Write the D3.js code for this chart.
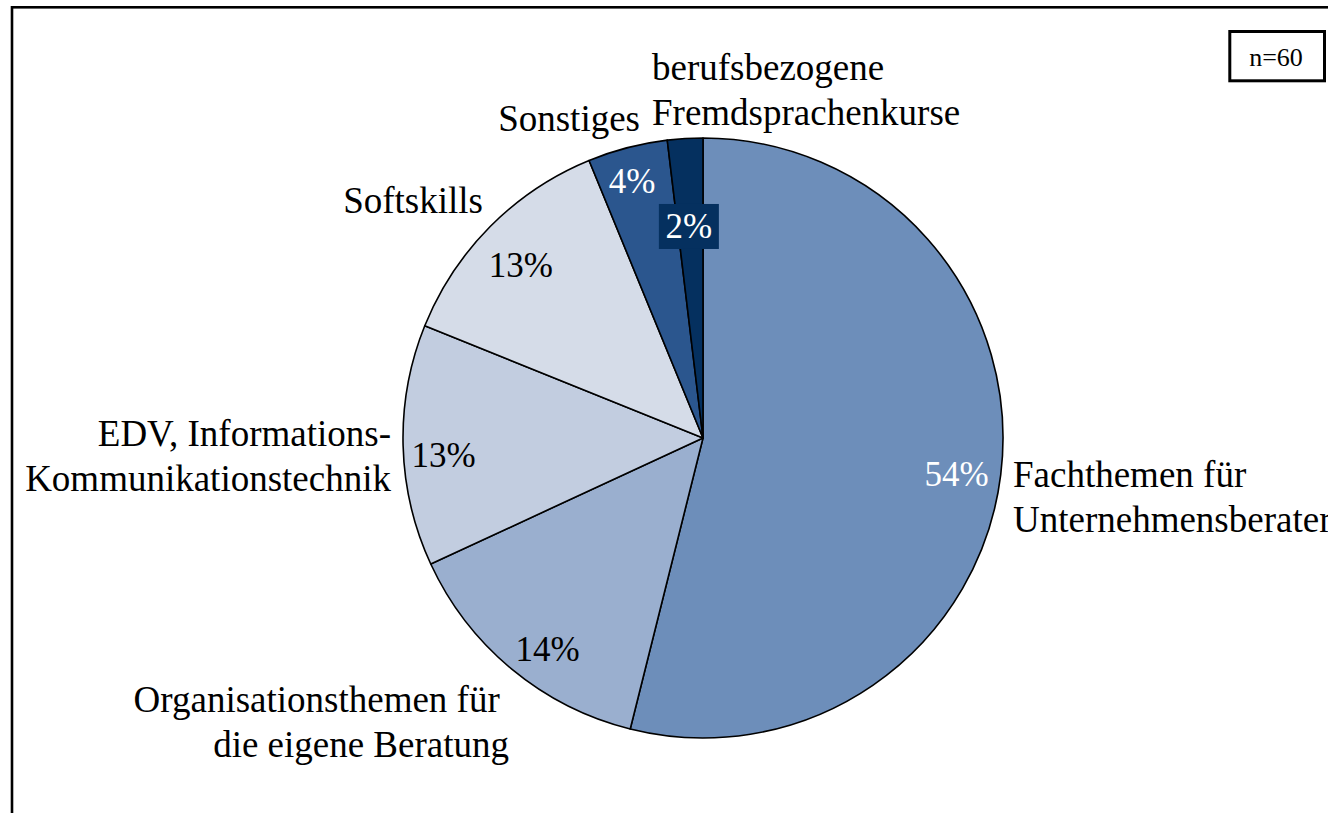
<!DOCTYPE html>
<meta charset="utf-8">
<style>
  body { margin: 0; background: white; }
  .label { font-family: "Liberation Serif", "Times New Roman", serif; font-size: 37px; fill: black; }
  .pct { font-family: "Liberation Serif", "Times New Roman", serif; font-size: 35px; text-anchor: middle; }
  .nbox { font-family: "Liberation Serif", "Times New Roman", serif; font-size: 26px; text-anchor: middle; }
</style>
<body>
<script src="https://cdn.jsdelivr.net/npm/d3@7"></script>
<script>

// data
const categories = ["Fachthemen für Unternehmensberater",
                    "Organisationsthemen für die eigene Beratung",
                    "EDV, Informations- Kommunikationstechnik",
                    "Softskills",
                    "Sonstiges",
                    "berufsbezogene Fremdsprachenkurse"]
const labelLines = [["Fachthemen für", "Unternehmensberater"],
                    ["Organisationsthemen für\u00a0", "die eigene Beratung"],
                    ["EDV, Informations-", "Kommunikationstechnik"],
                    ["Softskills"],
                    ["Sonstiges"],
                    ["berufsbezogene", "Fremdsprachenkurse"]]
const values = [53.9, 14.2, 13.0, 12.7, 4.3, 1.9]
const sampleSize = 60

// styles
const colors = ["#6d8eba", "#9aafcf", "#c2cde0", "#d5dce8", "#2b568e", "#05305f"]
const pctColors = ["white", "black", "black", "black", "white", "white"]

const width = 1328, height = 813
const cx = 703, cy = 438, radius = 300

// where the labels sit, relative to the pie centre
const outerLayout = [
  {dx: 310, dy: 49, anchor: "start"},
  {dx: -194, dy: 274, anchor: "end"},
  {dx: -312, dy: 8, anchor: "end"},
  {dx: -220, dy: -225, anchor: "end"},
  {dx: -63, dy: -307, anchor: "end"},
  {dx: -51, dy: -358, anchor: "start"}
]
const pctLayout = [
  {r: 256, da: 1}, {r: 262, da: -3.2}, {r: 260, da: -2.4},
  {r: 251, da: -1.4}, {r: 267, da: -0.8}, {r: 212, da: -0.4}
]
const lineHeight = 44.5

const svg = d3.select("body")
  .append("svg")
    .attr("width", width)
    .attr("height", height)

// frame (runs off the right and bottom edge)
svg.append("rect")
  .attr("x", 12)
  .attr("y", 7.3)
  .attr("width", 1400)
  .attr("height", 900)
  .attr("fill", "none")
  .attr("stroke", "black")
  .attr("stroke-width", 2.6)

const g = svg.append("g")
  .attr("transform", `translate(${cx}, ${cy})`)

const pie = d3.pie().sort(null).value(d => d)
const arcs = pie(values)
const arc = d3.arc().innerRadius(0).outerRadius(radius)

g.selectAll(".slice")
  .data(arcs)
  .enter().append("path")
    .attr("class", "slice")
    .attr("d", arc)
    .attr("fill", (d, i) => colors[i])
    .attr("stroke", "black")
    .attr("stroke-width", 1.6)
    .attr("stroke-linejoin", "round")

const fmt = d3.format(".0f")

function pctPos(d, i) {
  const a = (d.startAngle + d.endAngle) / 2 + pctLayout[i].da * Math.PI / 180
  const r = pctLayout[i].r
  return [r * Math.sin(a), -r * Math.cos(a)]
}

// dark box behind the smallest label
arcs.forEach((d, i) => {
  if (i !== 5) return
  const [x, y] = pctPos(d, i)
  g.append("rect")
    .attr("x", x - 30)
    .attr("y", y - 22.5)
    .attr("width", 60)
    .attr("height", 45)
    .attr("fill", colors[i])
})

g.selectAll(".pct")
  .data(arcs)
  .enter().append("text")
    .attr("class", "pct")
    .attr("x", (d, i) => pctPos(d, i)[0])
    .attr("y", (d, i) => pctPos(d, i)[1] + 12)
    .attr("fill", (d, i) => pctColors[i])
    .text(d => fmt(d.value) + "%")

g.selectAll(".label")
  .data(labelLines)
  .enter().append("text")
    .attr("class", "label")
    .attr("text-anchor", (d, i) => outerLayout[i].anchor)
    .attr("y", (d, i) => outerLayout[i].dy)
    .selectAll("tspan")
    .data((d, i) => d.map(t => ({t, i})))
    .enter().append("tspan")
      .attr("x", d => outerLayout[d.i].dx)
      .attr("dy", (d, j) => j === 0 ? 0 : lineHeight)
      .text(d => d.t)

// sample size box
svg.append("rect")
  .attr("x", 1229.8)
  .attr("y", 31.5)
  .attr("width", 94.7)
  .attr("height", 49.3)
  .attr("fill", "white")
  .attr("stroke", "black")
  .attr("stroke-width", 3)

svg.append("text")
  .attr("class", "nbox")
  .attr("x", 1276)
  .attr("y", 65.5)
  .text(`n=${sampleSize}`)

</script>
</body>
</html>
